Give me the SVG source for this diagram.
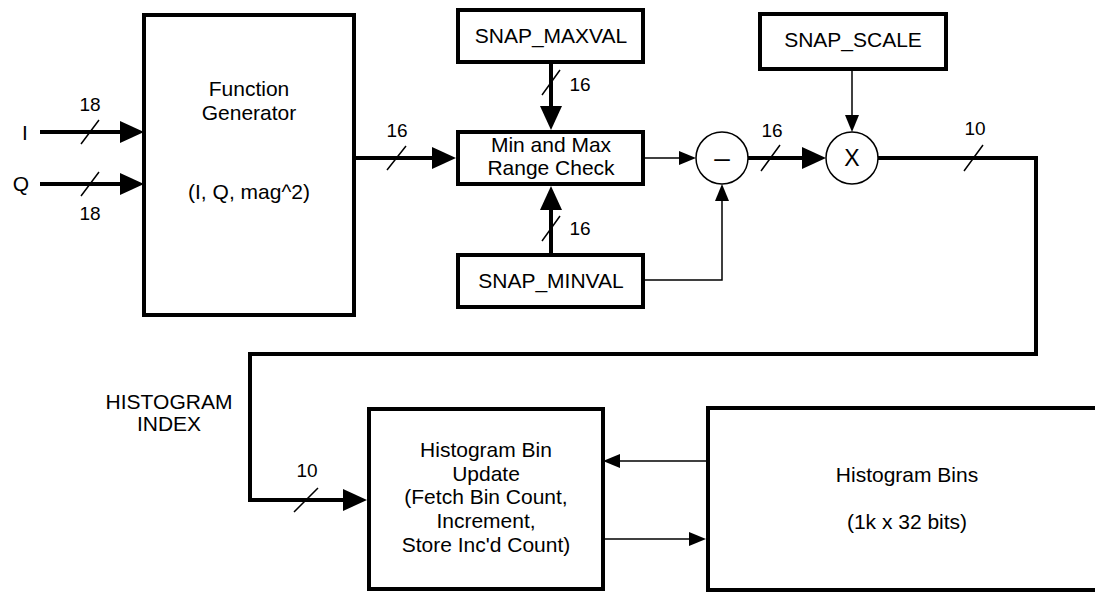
<svg xmlns="http://www.w3.org/2000/svg" width="1095" height="592" viewBox="0 0 1095 592">
<style>
.box{fill:#fff;stroke:#000;stroke-width:4}
.circ{fill:#fff;stroke:#000;stroke-width:1.5}
.thick{fill:none;stroke:#000;stroke-width:4}
.thin{fill:none;stroke:#000;stroke-width:1.5}
.slash{fill:none;stroke:#000;stroke-width:1.5}
text{font-family:"Liberation Sans",Arial,sans-serif;fill:#000;text-anchor:middle}
.t{font-size:21px}
.n{font-size:19px}
</style>
<defs>
<marker id="ah" markerUnits="userSpaceOnUse" markerWidth="24" markerHeight="22" viewBox="0 0 24 22" refX="14" refY="11" orient="auto"><path d="M0,0 L24,11 L0,22 z" fill="#000"/></marker>
<marker id="at" markerUnits="userSpaceOnUse" markerWidth="17" markerHeight="14" viewBox="0 0 17 14" refX="10" refY="7" orient="auto"><path d="M0,0 L17,7 L0,14 z" fill="#000"/></marker>
</defs>
<g id="connectors">
<path class="thick" d="M40,132 H134" marker-end="url(#ah)"/>
<path class="thick" d="M40,184 H134" marker-end="url(#ah)"/>
<path class="thick" d="M354,158 H446" marker-end="url(#ah)"/>
<path class="thick" d="M551,62 V120" marker-end="url(#ah)"/>
<path class="thick" d="M551,255 V196" marker-end="url(#ah)"/>
<path class="thin" d="M643,158 H689" marker-end="url(#at)"/>
<path class="thin" d="M643,280 H722 V191" marker-end="url(#at)"/>
<path class="thick" d="M748,158 H816" marker-end="url(#ah)"/>
<path class="thin" d="M852,69 V125" marker-end="url(#at)"/>
<path class="thick" d="M878,158 H1036 V354 H250 V500 H357" marker-end="url(#ah)"/>
<path class="thin" d="M708,461 H610" marker-end="url(#at)"/>
<path class="thin" d="M603,539 H699" marker-end="url(#at)"/>
<path class="slash" d="M81,144 L99,120 M81,196 L99,172 M387,170 L406,146 M542,95 L560,70 M542,241 L560,216 M761,171 L780,145 M964,171 L983,145 M294,512 L318,488"/>
<text class="n" x="90" y="111">18</text>
<text class="n" x="90" y="220">18</text>
<text class="n" x="397" y="137">16</text>
<text class="n" x="580" y="91">16</text>
<text class="n" x="580" y="235">16</text>
<text class="n" x="772" y="137">16</text>
<text class="n" x="975" y="135">10</text>
<text class="n" x="307" y="477">10</text>
<text class="t" x="25" y="140">I</text>
<text class="t" x="21" y="191">Q</text>
<text class="t" x="169" y="409">HISTOGRAM</text>
<text class="t" x="169" y="431">INDEX</text>
</g>
<g id="function-generator">
<rect class="box" x="144" y="15" width="210" height="300"/>
<text class="t" x="249" y="96">Function</text>
<text class="t" x="249" y="120">Generator</text>
<text class="t" x="249" y="199">(I, Q, mag^2)</text>
</g>
<g id="snap-maxval">
<rect class="box" x="458" y="10" width="185" height="52"/>
<text class="t" x="551" y="43">SNAP_MAXVAL</text>
</g>
<g id="range-check">
<rect class="box" x="458" y="132" width="185" height="52"/>
<text class="t" x="551" y="152">Min and Max</text>
<text class="t" x="551" y="175">Range Check</text>
</g>
<g id="snap-minval">
<rect class="box" x="458" y="255" width="185" height="52"/>
<text class="t" x="551" y="288">SNAP_MINVAL</text>
</g>
<g id="subtract">
<circle class="circ" cx="722" cy="158" r="26"/>
<text x="722" y="167" style="font-size:28px">–</text>
</g>
<g id="snap-scale">
<rect class="box" x="760" y="14" width="186" height="55"/>
<text class="t" x="853" y="47">SNAP_SCALE</text>
</g>
<g id="multiply">
<circle class="circ" cx="852" cy="158" r="26"/>
<text x="852" y="166" style="font-size:23px">X</text>
</g>
<g id="histogram-bin-update">
<rect class="box" x="369" y="409" width="234" height="180"/>
<text class="t" x="486" y="457">Histogram Bin</text>
<text class="t" x="486" y="481">Update</text>
<text class="t" x="486" y="504">(Fetch Bin Count,</text>
<text class="t" x="486" y="528">Increment,</text>
<text class="t" x="486" y="552">Store Inc'd Count)</text>
</g>
<g id="histogram-bins">
<rect class="box" x="708" y="408" width="400" height="182"/>
<text class="t" x="907" y="482">Histogram Bins</text>
<text class="t" x="907" y="529">(1k x 32 bits)</text>
</g>
</svg>
